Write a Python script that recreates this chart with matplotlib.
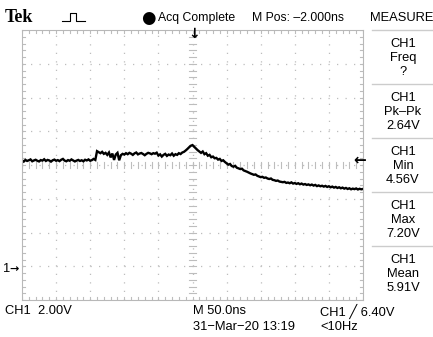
import numpy as np
import matplotlib
matplotlib.use("Agg")
import matplotlib.pyplot as plt
from matplotlib.lines import Line2D

# ---- data ----
ch1_volts = [
    # -250 .. -142.5 ns
    6.27, 6.20, 6.30, 6.24, 6.28, 6.33, 6.22, 6.27, 6.31, 6.25,
    6.21, 6.29, 6.26, 6.34, 6.24, 6.30, 6.27, 6.20, 6.28, 6.32,
    6.25, 6.29, 6.23, 6.31, 6.36, 6.26, 6.22, 6.29, 6.25, 6.33,
    6.27, 6.21, 6.26, 6.30, 6.24, 6.28, 6.22, 6.31, 6.27, 6.33,
    6.25, 6.29, 6.36, 6.30,
    # -140 .. -102.5
    6.82, 6.76, 6.70, 6.78, 6.66, 6.72, 6.60, 6.74, 6.45, 6.68,
    6.30, 6.62, 6.72, 6.28, 6.58, 6.66,
    # -100 .. -52.5
    6.62, 6.70, 6.64, 6.72, 6.67, 6.60, 6.69, 6.74, 6.63, 6.68,
    6.71, 6.65, 6.58, 6.66, 6.72, 6.69, 6.64, 6.70, 6.67, 6.73,
    # -50 .. -12.5
    6.56, 6.63, 6.50, 6.60, 6.66, 6.54, 6.62, 6.58, 6.68, 6.55,
    6.64, 6.60, 6.70, 6.65, 6.74, 6.78,
    # -10 .. 10
    6.86, 6.95, 7.05, 7.14, 7.18, 7.08, 6.98, 6.88, 6.80,
    # 12.5 .. 250
    6.72, 6.80, 6.64, 6.70, 6.55, 6.60, 6.46, 6.50, 6.40, 6.42,
    6.32, 6.36, 6.24, 6.28, 6.18, 6.10,
    6.02, 6.06, 5.94, 5.90, 5.95, 5.84, 5.80, 5.76, 5.78, 5.68,
    5.64, 5.60, 5.55, 5.50, 5.46, 5.42,
    5.44, 5.36, 5.32, 5.28, 5.30, 5.24, 5.26, 5.20, 5.17, 5.20,
    5.12, 5.10, 5.06, 5.08, 5.02, 5.00,
    4.98, 5.00, 4.94, 4.96, 4.92, 4.97, 4.90, 4.93, 4.88, 4.92,
    4.86, 4.90, 4.84, 4.87, 4.82, 4.85,
    4.80, 4.84, 4.78, 4.82, 4.75, 4.79, 4.74, 4.77, 4.72, 4.76,
    4.70, 4.74, 4.68, 4.72, 4.66, 4.70,
    4.64, 4.68, 4.62, 4.66, 4.60, 4.64, 4.58, 4.62, 4.56, 4.60,
    4.57, 4.61, 4.55, 4.59, 4.56, 4.58,
]
time_ns = np.linspace(-250, 250, len(ch1_volts))
measure_names = ["Freq", "Pk\u2013Pk", "Min", "Max", "Mean"]
measure_values = ["?", "2.64V", "4.56V", "7.20V", "5.91V"]

volts_per_div = 2.0
ns_per_div = 50.0
ground_div = -3

W, H = 433, 337
fig = plt.figure(figsize=(W / 100, H / 100), dpi=100)
fig.patch.set_facecolor("white")

L, T, R, B = 22, 30, 363, 300
ax = fig.add_axes([L / W, 1 - B / H, (R - L) / W, (B - T) / H])
ax.set_xlim(-5 * ns_per_div, 5 * ns_per_div)
y0 = ground_div * -volts_per_div
ax.set_ylim(y0 - 4 * volts_per_div, y0 + 4 * volts_per_div)
ax.set_xticks([])
ax.set_yticks([])
for s in ax.spines.values():
    s.set_color("#b8b8b8")
    s.set_linewidth(0.8)

grid_col = "#bdbdbd"
for k in range(-4, 5):
    ax.axvline(k * ns_per_div, color=grid_col, lw=0.9, ls=(0, (1, 5.8)))
for k in range(-3, 4):
    ax.axhline(y0 + k * volts_per_div, color=grid_col, lw=0.9, ls=(0, (1, 5.8)))

xs_minor = np.arange(-5 * ns_per_div, 5 * ns_per_div + 1, ns_per_div / 5)
ys_minor = np.arange(y0 - 4 * volts_per_div, y0 + 4 * volts_per_div + 0.01, volts_per_div / 5)
tx = 0.09 * volts_per_div
ty = 0.09 * ns_per_div
for x in xs_minor:
    ax.plot([x, x], [y0 - tx, y0 + tx], color=grid_col, lw=0.8)
    ax.plot([x, x], [ys_minor[0], ys_minor[0] + tx], color=grid_col, lw=0.8)
    ax.plot([x, x], [ys_minor[-1] - tx, ys_minor[-1]], color=grid_col, lw=0.8)
for y in ys_minor:
    ax.plot([-ty, ty], [y, y], color=grid_col, lw=0.8)
    ax.plot([xs_minor[0], xs_minor[0] + ty], [y, y], color=grid_col, lw=0.8)
    ax.plot([xs_minor[-1] - ty, xs_minor[-1]], [y, y], color=grid_col, lw=0.8)

# trace
ax.plot(time_ns, ch1_volts, color="black", lw=1.7, solid_joinstyle="miter")

# markers
fam = ["Liberation Sans Narrow", "Liberation Sans", "DejaVu Sans"]
fs = 9.3
fig.text(194 / W, 1 - 34 / H, "\u2193", ha="center", va="center", fontsize=10,
         fontweight="bold", family="DejaVu Sans")
fig.text(360 / W, 1 - 160 / H, "\u2190", ha="center", va="center", fontsize=11,
         fontweight="bold", family="DejaVu Sans")
fig.text(3 / W, 1 - 269 / H, "1", ha="left", va="center", fontsize=fs, family=fam)
fig.text(14 / W, 1 - 269 / H, "\u2192", ha="center", va="center", fontsize=8,
         fontweight="bold", family="DejaVu Sans")

# header
fig.text(5 / W, 1 - 18 / H, "Tek", ha="left", va="center", fontsize=13,
         fontweight="bold", family=["Liberation Serif", "DejaVu Serif"])
px = [62, 70, 70, 76, 76, 85]
py = [21, 21, 13, 13, 21, 21]
fig.add_artist(Line2D([p / W for p in px], [1 - p / H for p in py],
                      transform=fig.transFigure, color="black", lw=0.8))
fig.text(148 / W, 1 - 18 / H, "\u25cf", ha="center", va="center", fontsize=12,
         family="DejaVu Sans")
fig.text(158 / W, 1 - 18 / H, "Acq Complete", ha="left",
         va="center", fontsize=8.8, family=fam)
fig.text(252 / W, 1 - 18 / H, "M Pos: \u20132.000ns", ha="left",
         va="center", fontsize=8.8, family=fam)
fig.text(402 / W, 1 - 18 / H, "MEASURE", ha="center", va="center", fontsize=fs, family=fam)

# measure panel
box_top = 30
box_h = 54
for i, (nm, val) in enumerate(zip(measure_names, measure_values)):
    top = box_top + i * box_h
    fig.add_artist(Line2D([372 / W, 432 / W], [1 - top / H, 1 - top / H],
                          transform=fig.transFigure, color="#cccccc", lw=1.0))
    for j, t in enumerate(["CH1", nm, val]):
        fig.text(403 / W, 1 - (top + 14 + 14 * j) / H, t, ha="center", va="center",
                 fontsize=fs, family=fam)

# footer
fig.text(5 / W, 1 - 311 / H, "CH1  2.00V", ha="left", va="center", fontsize=fs, family=fam)
fig.text(193 / W, 1 - 311 / H, "M 50.0ns", ha="left", va="center", fontsize=fs, family=fam)
fig.text(320 / W, 1 - 311 / H, "CH1 \u2571 6.40V", ha="left", va="center", fontsize=fs,
         family=fam + ["DejaVu Sans"])
fig.text(193 / W, 1 - 327 / H, "31\u2212Mar\u221220 13:19", ha="left", va="center",
         fontsize=fs, family=fam)
fig.text(320 / W, 1 - 327 / H, "<10Hz", ha="left", va="center", fontsize=fs, family=fam)

fig.savefig("out.png", dpi=100, facecolor="white")
